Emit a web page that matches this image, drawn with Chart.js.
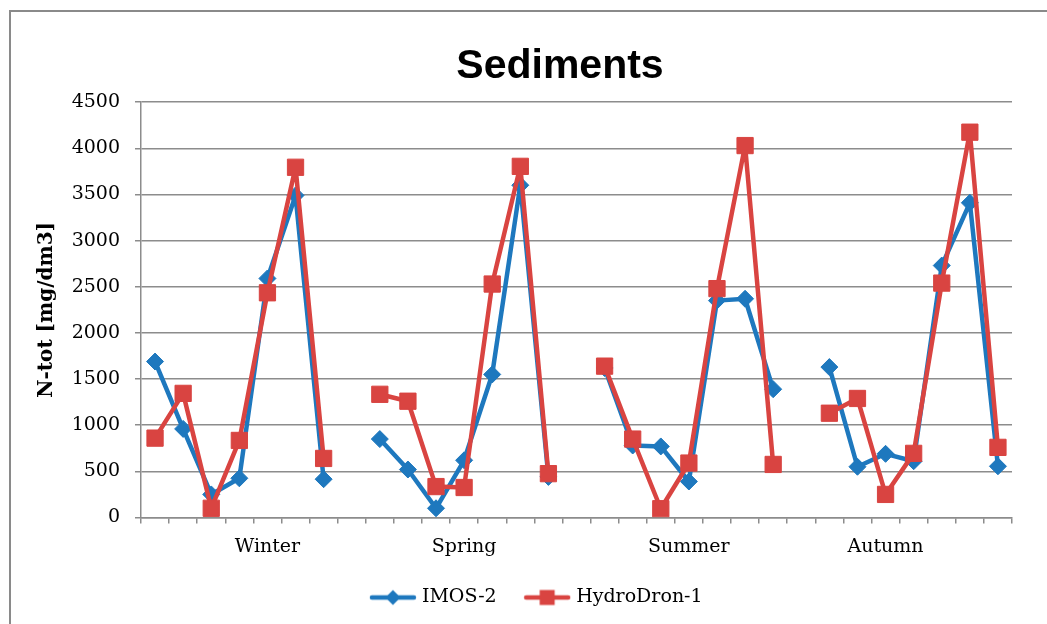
<!DOCTYPE html>
<html>
<head>
<meta charset="utf-8">
<script src="https://cdn.jsdelivr.net/npm/chart.js@4.4.1/dist/chart.umd.min.js"></script>
<style>
  html, body { margin: 0; padding: 0; background: #fff; overflow: hidden; }
  #frame { position: absolute; left: 9px; top: 10px; width: 1100px; height: 700px; border: 2px solid #8a8a8a; }
  #wrap { position: absolute; left: 0; top: 0; width: 1047px; height: 650px; }
</style>
</head>
<body>
<div id="frame"></div>
<div id="wrap"><canvas id="sedChart"></canvas></div>
<script>
// 4 seasons x 7 samples, one empty slot between seasons
let categories = [
    "", "", "", "", "Winter", "", "", "",
    "", "", "", "Spring", "", "", "", "",
    "", "", "", "Summer", "", "", "", "",
    "", "", "Autumn", "", "", "", ""
];
let imos = [1690, 960, 250, 425, 2590, 3490, 415, null,
            850, 520, 100, 620, 1550, 3600, 440, null,
            1620, 780, 770, 390, 2350, 2370, 1390, null,
            1630, 550, 690, 610, 2730, 3410, 555];
let hydro = [860, 1345, 100, 835, 2435, 3795, 640, null,
             1335, 1260, 335, 325, 2530, 3805, 475, null,
             1640, 850, 95, 590, 2480, 4030, 575, null,
             1130, 1290, 250, 695, 2540, 4175, 760];
let yTicks = [0, 500, 1000, 1500, 2000, 2500, 3000, 3500, 4000, 4500];

let blue = "#1e78be";
let red = "#d94441";
let gridGray = "#8c8c8c";
let serif = "'DejaVu Serif', serif";

// small line + marker picture for the legend
function legendMark(color, shape){
    let c = document.createElement("canvas");
    c.width = 48; c.height = 20;
    let ctx = c.getContext("2d");
    ctx.strokeStyle = color;
    ctx.fillStyle = color;
    ctx.lineWidth = 4.5;
    ctx.lineCap = "round";
    ctx.beginPath();
    ctx.moveTo(3, 10);
    ctx.lineTo(45, 10);
    ctx.stroke();
    if (shape == "diamond"){
        ctx.beginPath();
        ctx.moveTo(24, 2.5);
        ctx.lineTo(31.5, 10);
        ctx.lineTo(24, 17.5);
        ctx.lineTo(16.5, 10);
        ctx.closePath();
        ctx.fill();
    }
    else{
        ctx.fillRect(16.5, 2.5, 15, 15);
    }
    return c;
}
let marks = [legendMark(blue, "diamond"), legendMark(red, "square")];

// move title and legend so they sit where the original had them
let shiftBlocks = {
    id: "shiftBlocks",
    afterLayout(chart){
        chart.titleBlock.left += 40;
        chart.titleBlock.right += 40;
        chart.legend.left += 18;
        chart.legend.right += 18;
    }
};

let sedChart = new Chart(document.getElementById("sedChart"),
    {
        type: "line",
        data: {
            labels: categories,
            datasets: [{
                label: "IMOS-2",
                data: imos,
                borderColor: blue,
                backgroundColor: blue,
                borderWidth: 4.5,
                borderJoinStyle: "round",
                pointStyle: "rectRot",
                pointRadius: 8.5,
                pointHoverRadius: 8.5,
                pointBorderWidth: 1,
                tension: 0,
                spanGaps: false,
                order: 1
            },
            {
                label: "HydroDron-1",
                data: hydro,
                borderColor: red,
                backgroundColor: red,
                borderWidth: 4.5,
                borderJoinStyle: "round",
                pointStyle: "rect",
                pointRadius: 11.5,
                pointHoverRadius: 11.5,
                pointBorderWidth: 1,
                tension: 0,
                spanGaps: false,
                order: 0
            }]
        },
        options: {
            maintainAspectRatio: false,
            animation: false,
            layout: { padding: { left: 28, right: 35, top: 42, bottom: 33 } },
            plugins: {
                title: {
                    display: true,
                    text: "Sediments",
                    color: "#000",
                    font: { family: "'Liberation Sans', Arial, sans-serif", size: 41, weight: "bold", lineHeight: 1.2 },
                    padding: { top: 0, bottom: 11 }
                },
                legend: {
                    position: "bottom",
                    labels: {
                        usePointStyle: true,
                        pointStyleWidth: 39,
                        padding: 31,
                        color: "#000",
                        font: { family: serif, size: 19 },
                        generateLabels: function(chart){
                            return chart.data.datasets.map(function(ds, i){
                                return {
                                    text: ds.label,
                                    pointStyle: marks[i],
                                    fillStyle: ds.borderColor,
                                    strokeStyle: ds.borderColor,
                                    lineWidth: 0,
                                    fontColor: "#000",
                                    hidden: !chart.isDatasetVisible(i),
                                    datasetIndex: i
                                };
                            });
                        }
                    }
                },
                tooltip: { enabled: false }
            },
            scales: {
                x: {
                    offset: true,
                    grid: {
                        display: true,
                        offset: true,
                        drawOnChartArea: false,
                        drawTicks: true,
                        tickLength: 6,
                        color: gridGray,
                        lineWidth: 1.5
                    },
                    border: { color: gridGray, width: 1.5 },
                    ticks: {
                        autoSkip: false,
                        maxRotation: 0,
                        minRotation: 0,
                        padding: 12,
                        color: "#000",
                        font: { family: serif, size: 19 }
                    },
                    afterFit: function(scale){ scale.height = 39.5; }
                },
                y: {
                    min: 0,
                    max: 4500,
                    afterBuildTicks: function(scale){
                        scale.ticks = yTicks.map(function(v){ return { value: v }; });
                    },
                    grid: {
                        color: gridGray,
                        lineWidth: 1.5,
                        tickLength: 6
                    },
                    border: { color: gridGray, width: 1.5 },
                    ticks: {
                        padding: 15,
                        color: "#000",
                        font: { family: serif, size: 19 },
                        callback: function(v){ return String(v); }
                    },
                    title: {
                        display: true,
                        text: "N-tot [mg/dm3]",
                        color: "#000",
                        font: { family: serif, size: 20, weight: "bold", lineHeight: 1.2 },
                        padding: { top: 7, bottom: 0 }
                    },
                    afterFit: function(scale){ scale.width = 113; }
                }
            }
        },
        plugins: [shiftBlocks]
    }
);
</script>
</body>
</html>
